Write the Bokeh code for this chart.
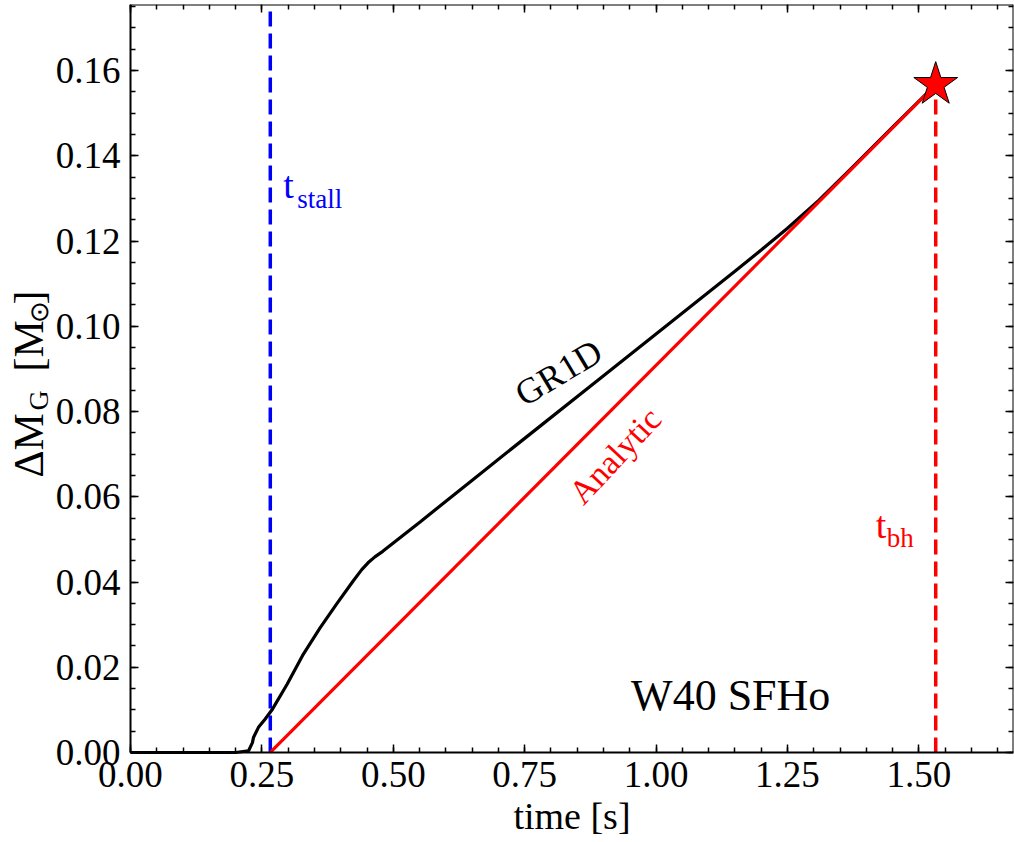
import numpy as np
from bokeh.plotting import figure
from bokeh.models import (Label, LinearAxis, SingleIntervalTicker, PrintfTickFormatter,
                          CustomJSTickFormatter, Range1d)
from bokeh.embed import file_html
from bokeh.resources import INLINE

# ---- data ----
gr1d_t = [0.0, 0.20, 0.2247, 0.232, 0.234, 0.2435, 0.256, 0.269, 0.298, 0.329, 0.361,
          0.392, 0.424, 0.440, 0.452, 0.465, 0.480, 0.551, 0.6645, 0.75, 0.90, 1.0316,
          1.15, 1.20, 1.25, 1.31, 1.37, 1.45, 1.532]
gr1d_m = [0.0, 0.0, 0.0004, 0.0023, 0.0035, 0.0059, 0.0078, 0.00995, 0.016, 0.0231, 0.0293,
          0.0348, 0.0403, 0.0429, 0.0445, 0.0459, 0.0472, 0.0541, 0.0653, 0.0737, 0.0884,
          0.1013, 0.1129, 0.1179, 0.1230, 0.1296, 0.1369, 0.1467, 0.1567]

t_stall = 0.266
t_bh = 1.532
m_bh = 0.1567
analytic_t = [t_stall, t_bh]
analytic_m = [0.0, m_bh]

x_max = 1.68
y_max = 0.1755
x_ticks_interval = 0.25
y_ticks_interval = 0.02

FONT = "Liberation Serif"

# The frame covers the whole canvas; the margins (x<0, y<0) hold tick labels and titles.
x_min_view = -0.2473
y_min_view = -0.02112

p = figure(width=1014, height=842, x_range=Range1d(x_min_view, x_max),
           y_range=Range1d(y_min_view, y_max),
           output_backend="svg", toolbar_location=None,
           min_border_left=0, min_border_right=1, min_border_top=4, min_border_bottom=0)
p.grid.visible = False
p.outline_line_color = None
p.background_fill_color = "white"
p.border_fill_color = "white"


def style_axis(ax, interval, minors, labels=True):
    ax.ticker = SingleIntervalTicker(interval=interval, num_minor_ticks=minors)
    ax.major_tick_in = 8
    ax.major_tick_out = 0
    ax.minor_tick_in = 5
    ax.minor_tick_out = 0
    ax.axis_line_width = 2
    ax.axis_line_color = "black"
    ax.major_tick_line_width = 1.5
    ax.minor_tick_line_width = 1.5
    ax.major_tick_line_color = "black"
    ax.minor_tick_line_color = "black"
    if labels:
        ax.formatter = PrintfTickFormatter(format="%.2f")
        ax.major_label_text_font = FONT
        ax.major_label_text_font_size = "37px"
        ax.major_label_text_color = "black"
        ax.major_label_standoff = 10
    else:
        ax.formatter = CustomJSTickFormatter(code="return ''")
        ax.major_label_text_font_size = "1px"
        ax.major_label_standoff = 0


xa = p.xaxis[0]
style_axis(xa, x_ticks_interval, 5)
xa.fixed_location = 0
xa.bounds = (0, x_max)

ya = p.yaxis[0]
style_axis(ya, y_ticks_interval, 4)
ya.fixed_location = 0
ya.bounds = (0, y_max)

top_ax = LinearAxis(fixed_location=y_max, bounds=(0, x_max))
style_axis(top_ax, x_ticks_interval, 5, labels=False)
p.add_layout(top_ax, "above")
right_ax = LinearAxis(fixed_location=x_max, bounds=(0, y_max))
style_axis(right_ax, y_ticks_interval, 4, labels=False)
p.add_layout(right_ax, "right")

# ---- lines ----
p.segment(x0=[t_stall], y0=[0.0], x1=[t_stall], y1=[y_max], line_color="#0000ff",
          line_width=3.5, line_dash="15 7")
p.segment(x0=[t_bh], y0=[0.0], x1=[t_bh], y1=[m_bh], line_color="#ff0000",
          line_width=3.5, line_dash="15 7")
p.line(gr1d_t, gr1d_m, line_color="black", line_width=3.2)
p.line(analytic_t, analytic_m, line_color="#ff0000", line_width=3.2)
p.scatter([t_bh], [m_bh], marker="star", size=46, fill_color="#ff0000",
          line_color="black", line_width=1)

# ---- annotations ----
def lab(x, y, text, size_px, color="black", angle=0.0, align="left", baseline="alphabetic",
        xo=0.0, yo=0.0):
    if baseline == "alphabetic":
        # shift so that the anchor sits on the text baseline
        s = 0.33 * size_px
        yo += s * np.cos(angle)
        xo -= s * np.sin(angle)
    p.add_layout(Label(x=x, y=y, text=text, text_font=FONT, text_font_size=f"{size_px}px",
                       text_color=color, angle=angle, text_align=align,
                       text_baseline=baseline, x_offset=xo, y_offset=yo))

lab(0.8145, 0.0879, "GR1D", 36, angle=np.deg2rad(31), align="center", baseline="middle", yo=5)
lab(0.9217, 0.0687, "Analytic", 34, color="#ff0000", angle=np.deg2rad(47),
    align="center", baseline="middle", yo=4)
lab(0.9525, 0.00995, "W40 SFHo", 44)
lab(0.2905, 0.1302, "t", 38, color="#0000ff")
lab(0.2905, 0.1302, "stall", 27, color="#0000ff", xo=14, yo=-10)
lab(1.4177, 0.0505, "t", 38, color="#ff0000")
lab(1.4177, 0.0505, "bh", 27, color="#ff0000", xo=11, yo=-10)

# x-axis title
lab(x_max / 2, -0.0178, "time [s]", 38, align="center")

# y-axis title composed from pieces (rotated), left of the y tick labels
ylx, yly = -0.1672, 0.0645
rot = np.pi / 2
lab(ylx, yly, "\u0394M", 42, angle=rot)
lab(ylx, yly, "G", 28, angle=rot, yo=67, xo=5)
lab(ylx, yly, "[M", 42, angle=rot, yo=106)
lab(ylx, yly, "\u2299", 26, angle=rot, yo=155, xo=5)
lab(ylx, yly, "]", 42, angle=rot, yo=173)

open("out.html", "w").write(file_html(p, INLINE))
